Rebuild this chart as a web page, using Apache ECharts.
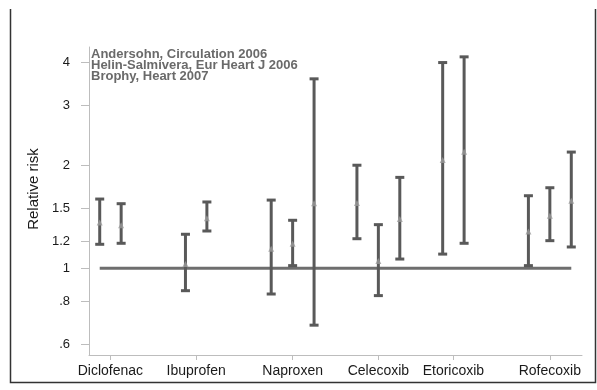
<!DOCTYPE html>
<html>
<head>
<meta charset="utf-8">
<script src="https://cdn.jsdelivr.net/npm/echarts@6/dist/echarts.min.js"></script>
<style>
  html, body { margin: 0; padding: 0; background: #fff; }
  #chart { width: 597px; height: 390px; }
</style>
</head>
<body>
<div id="chart"></div>
<script>
// drug groups on the x axis, ticks sit at the centre of each group
const drugs = ['Diclofenac', 'Ibuprofen', 'Naproxen', 'Celecoxib', 'Etoricoxib', 'Rofecoxib'];
const drugTickPos = [0.5, 4.5, 9, 13, 16.5, 21];

// y axis ticks (log scale)
const yTickValues = [0.6, 0.8, 1, 1.2, 1.5, 2, 3, 4];
const yTickLabels = ['.6', '.8', '1', '1.2', '1.5', '2', '3', '4'];

const studies = ['Andersohn, Circulation 2006', 'Helin-Salmivera, Eur Heart J 2006', 'Brophy, Heart 2007'];

// Andersohn
const andersohnPos = [0, 4, 8, 12, 16, 20];
const andersohnRR = [1.36, 1.03, 1.14, 1.55, 2.07, 1.28];
const andersohnLo = [1.175, 0.86, 0.841, 1.22, 1.10, 1.018];
const andersohnHi = [1.593, 1.257, 1.582, 2.0, 3.99, 1.629];

// Helin-Salmivera
const helinPos = [1, 5, 9, 13, 17, 21];
const helinRR = [1.335, 1.40, 1.18, 1.05, 2.19, 1.424];
const helinLo = [1.183, 1.285, 1.018, 0.832, 1.183, 1.204];
const helinHi = [1.544, 1.562, 1.381, 1.341, 4.146, 1.719];

// Brophy
const brophyPos = [10, 14, 22];
const brophyRR = [1.548, 1.393, 1.575];
const brophyLo = [0.682, 1.064, 1.154];
const brophyHi = [3.576, 1.843, 2.185];

// reference line at RR = 1
const refLine = [[0, 1], [22, 1]];

const barColor = '#595959';
const pointColor = '#9a9a9a';
const axisColor = '#bdbdbd';
const font = 'Liberation Sans, Arial, sans-serif';

function renderErrorBar(params, api) {
  const x = api.value(0);
  const lo = api.coord([x, api.value(1)]);
  const hi = api.coord([x, api.value(2)]);
  const hw = 4.5;
  const style = { stroke: barColor, lineWidth: 3 };
  return {
    type: 'group',
    children: [
      { type: 'line', shape: { x1: hi[0], y1: hi[1], x2: lo[0], y2: lo[1] }, style: style },
      { type: 'line', shape: { x1: hi[0] - hw, y1: hi[1], x2: hi[0] + hw, y2: hi[1] }, style: style },
      { type: 'line', shape: { x1: lo[0] - hw, y1: lo[1], x2: lo[0] + hw, y2: lo[1] }, style: style }
    ]
  };
}

function studySeries(name, pos, rr, lo, hi) {
  return [
    {
      name: name,
      type: 'custom',
      renderItem: renderErrorBar,
      data: pos.map((p, i) => [p, lo[i], hi[i]]),
      encode: { x: 0, y: [1, 2] },
      itemStyle: { color: barColor },
      z: 3
    },
    {
      name: name,
      type: 'scatter',
      symbol: 'triangle',
      symbolSize: 6,
      data: pos.map((p, i) => [p, rr[i]]),
      itemStyle: { color: pointColor },
      z: 4
    }
  ];
}

const chart = echarts.init(document.getElementById('chart'));

chart.setOption({
  animation: false,
  textStyle: { fontFamily: font },
  grid: { left: 89, right: 15, top: 47, bottom: 35 },
  // study key, written as a small text block in the top-left of the plot
  title: {
    text: studies.join('\n'),
    left: 91,
    top: 48.5,
    padding: 0,
    textStyle: { color: '#6a6a6a', fontWeight: 'bold', fontSize: 13, lineHeight: 11.3, fontFamily: font }
  },
  xAxis: {
    type: 'value',
    min: -0.5,
    max: 22.5,
    splitLine: { show: false },
    axisLine: { onZero: false, lineStyle: { color: axisColor, width: 1 } },
    axisTick: { customValues: drugTickPos, length: 5, lineStyle: { color: axisColor } },
    axisLabel: {
      customValues: drugTickPos,
      formatter: v => drugs[drugTickPos.indexOf(v)],
      fontSize: 14,
      color: '#1a1a1a',
      margin: 9
    }
  },
  yAxis: {
    type: 'log',
    min: 0.558,
    max: 4.43,
    name: 'Relative risk',
    nameLocation: 'middle',
    nameRotate: 90,
    nameGap: 48,
    nameTextStyle: { fontSize: 15, color: '#1a1a1a', padding: [0, 0, 0, 24] },
    splitLine: { show: false },
    axisLine: { show: true, onZero: false, lineStyle: { color: axisColor, width: 1 } },
    axisTick: { customValues: yTickValues, length: 8, lineStyle: { color: axisColor } },
    axisLabel: {
      customValues: yTickValues,
      formatter: v => yTickLabels[yTickValues.indexOf(v)],
      fontSize: 13,
      color: '#1a1a1a',
      margin: 19
    }
  },
  graphic: [{
    type: 'polyline',
    shape: { points: [[10.5, 9], [10.5, 382.5], [595.5, 382.5], [595.5, 9]] },
    style: { stroke: '#333', lineWidth: 1.5, fill: null },
    silent: true
  }],
  series: [
    {
      type: 'line',
      data: refLine,
      symbol: 'none',
      lineStyle: { color: '#6e6e6e', width: 3 },
      z: 2
    }
  ].concat(
    studySeries(studies[0], andersohnPos, andersohnRR, andersohnLo, andersohnHi),
    studySeries(studies[1], helinPos, helinRR, helinLo, helinHi),
    studySeries(studies[2], brophyPos, brophyRR, brophyLo, brophyHi)
  )
});
</script>
</body>
</html>
